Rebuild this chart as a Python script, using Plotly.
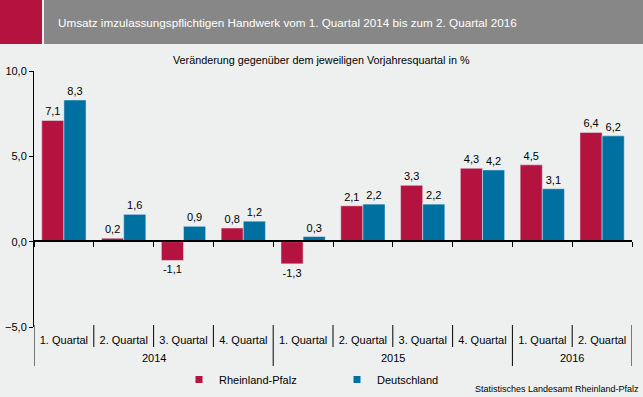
import plotly.graph_objects as go

years = ["2014"] * 4 + ["2015"] * 4 + ["2016"] * 2
quarters = ["1. Quartal", "2. Quartal", "3. Quartal", "4. Quartal",
            "1. Quartal", "2. Quartal", "3. Quartal", "4. Quartal",
            "1. Quartal", "2. Quartal"]
rlp = [7.1, 0.2, -1.1, 0.8, -1.3, 2.1, 3.3, 4.3, 4.5, 6.4]
de = [8.3, 1.6, 0.9, 1.2, 0.3, 2.2, 2.2, 4.2, 3.1, 6.2]
y_ticks = [-5, 0, 5, 10]

RED = "#B5133F"
BLUE = "#0070A1"
BG = "#EEF0EF"
FONT = "Liberation Sans"

W, H = 643, 397
ML, MR, MT, MB = 34, 11, 71, 70
PW = W - ML - MR
PH = H - MT - MB

def px_x(px):
    return (px - ML) / PW

def px_y(py):
    return (H - MB - py) / PH

idx = list(range(len(quarters)))

fig = go.Figure()
fig.add_trace(go.Bar(x=idx, y=rlp, name="Rheinland-Pfalz", marker_color=RED,
                     texttemplate="%{y:.1f}", textposition="outside",
                     textfont=dict(size=11, color="#000000"), cliponaxis=False,
                     showlegend=False))
fig.add_trace(go.Bar(x=idx, y=de, name="Deutschland", marker_color=BLUE,
                     texttemplate="%{y:.1f}", textposition="outside",
                     textfont=dict(size=11, color="#000000"), cliponaxis=False,
                     showlegend=False))
# legend entries with small square symbols
for name, col in [("Rheinland-Pfalz", RED), ("Deutschland", BLUE)]:
    fig.add_trace(go.Scatter(x=[None], y=[None], mode="markers", name=name,
                             marker=dict(symbol="square", size=7, color=col)))

# overlay axis used only to draw the zero line with boundary ticks
fig.add_trace(go.Scatter(x=[str(i) for i in idx], y=[0] * len(idx),
                         xaxis="x2", mode="markers", marker=dict(opacity=0),
                         showlegend=False, hoverinfo="skip"))

fig.update_layout(
    width=W, height=H,
    margin=dict(l=ML, r=MR, t=MT, b=MB, autoexpand=False),
    paper_bgcolor=BG, plot_bgcolor=BG,
    font=dict(family=FONT, size=11, color="#000000"),
    separators=",.",
    barmode="group", bargap=0.26, bargroupgap=0,
    showlegend=True,
    legend=dict(orientation="h", x=px_x(179), y=px_y(365), xanchor="left", yanchor="top",
                font=dict(size=11), bgcolor="rgba(0,0,0,0)", entrywidth=113,
                itemwidth=30, traceorder="normal"),
    xaxis=dict(range=[-0.5, len(idx) - 0.5], tickvals=idx, ticktext=quarters,
               showline=False, showgrid=False, zeroline=False,
               tickfont=dict(size=11), ticks="", automargin=False, ticklabelstandoff=5),
    xaxis2=dict(type="category", overlaying="x", anchor="free", position=px_y(241),
                showline=True, linecolor="#000000", linewidth=2,
                ticks="outside", tickson="boundaries", ticklen=5, tickcolor="#000000",
                showticklabels=False, showgrid=False, range=[-0.5, len(idx) - 0.5],
                automargin=False),
    yaxis=dict(range=[-5, 10], tickvals=y_ticks, tickformat=".1f", showgrid=False,
               zeroline=False, showline=True, linecolor="#000000", linewidth=1,
               ticks="outside", ticklen=4, tickcolor="#000000", tickfont=dict(size=11),
               automargin=False),
)

# category dividers below the plot
for i in range(len(idx) + 1):
    b = i - 0.5
    year_edge = i == 0 or i == len(idx) or years[i] != years[i - 1]
    fig.add_shape(type="line", xref="x", yref="paper", x0=b, x1=b,
                  y0=px_y(366) if year_edge else px_y(347), y1=px_y(325),
                  line=dict(color="#000000", width=1))

# year labels
for yr in dict.fromkeys(years):
    pos = [i for i in idx if years[i] == yr]
    fig.add_annotation(text=yr, xref="x", yref="paper", x=sum(pos) / len(pos),
                       y=px_y(358), xanchor="center", yanchor="middle",
                       showarrow=False, font=dict(size=11))

# header bar
fig.add_shape(type="rect", xref="paper", yref="paper", x0=px_x(0), x1=px_x(42),
              y0=px_y(44), y1=px_y(0), fillcolor=RED, line_width=0, layer="above")
fig.add_shape(type="rect", xref="paper", yref="paper", x0=px_x(44), x1=px_x(643),
              y0=px_y(44), y1=px_y(0), fillcolor="#878787", line_width=0, layer="above")

fig.add_annotation(text="Umsatz imzulassungspflichtigen Handwerk vom 1. Quartal 2014 bis zum 2. Quartal 2016",
                   xref="paper", yref="paper", x=px_x(56), y=px_y(22), xanchor="left",
                   yanchor="middle", showarrow=False, font=dict(size=11.7, color="#FFFFFF"))
fig.add_annotation(text="Veränderung gegenüber dem jeweiligen Vorjahresquartal in %",
                   xref="paper", yref="paper", x=px_x(321), y=px_y(60), xanchor="center",
                   yanchor="middle", showarrow=False, font=dict(size=10.8))
fig.add_annotation(text="Statistisches Landesamt Rheinland-Pfalz",
                   xref="paper", yref="paper", x=px_x(641), y=px_y(389), xanchor="right",
                   yanchor="middle", showarrow=False, font=dict(size=9))

fig.write_html("out.html", config={"displayModeBar": False},
               post_script="document.body.style.margin='0px';document.body.style.background='" + BG + "';")
